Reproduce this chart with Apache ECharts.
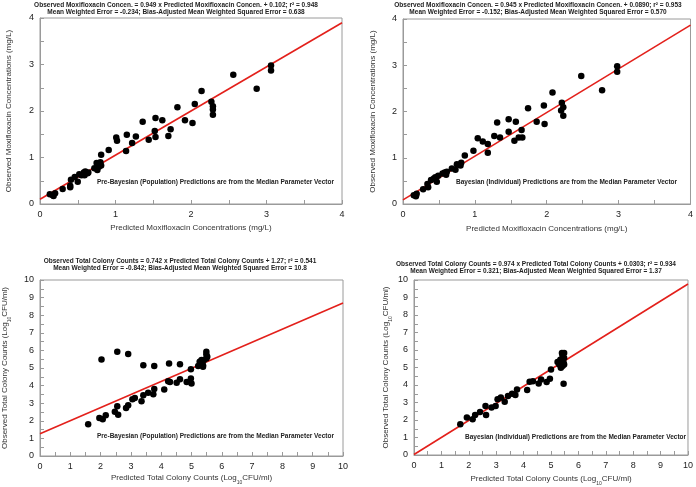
<!DOCTYPE html>
<html><head><meta charset="utf-8">
<script src="https://cdn.jsdelivr.net/npm/echarts@6/dist/echarts.min.js"></script>
<style>html,body{margin:0;padding:0;background:#fff}#c{width:696px;height:487px}</style>
</head><body><div id="c"></div>
<script>
// Panel A: Pre-Bayesian moxifloxacin (predicted, observed)
var moxPopX = [0.13,0.18,0.20,0.17,0.30,0.40,0.40,0.41,0.46,0.50,0.52,0.55,0.58,0.60,0.59,0.63,0.64,0.72,0.75,0.76,0.78,0.80,0.81,0.81,0.91,1.01,1.02,1.14,1.15,1.22,1.27,1.36,1.44,1.52,1.53,1.53,1.62,1.70,1.73,1.82,1.92,2.02,2.05,2.14,2.27,2.29,2.29,2.29,2.56,2.87,3.06,3.06];
var moxPopY = [0.21,0.17,0.23,0.19,0.32,0.39,0.36,0.52,0.58,0.48,0.64,0.62,0.68,0.70,0.62,0.66,0.68,0.77,0.88,0.73,0.80,0.90,1.06,0.83,1.16,1.43,1.36,1.14,1.49,1.31,1.45,1.77,1.38,1.57,1.85,1.44,1.80,1.46,1.61,2.08,1.80,1.74,2.15,2.43,2.20,2.10,2.03,1.92,2.78,2.48,2.98,2.87];
// Panel B: Bayesian moxifloxacin
var moxIndX = [0.15,0.18,0.19,0.28,0.34,0.35,0.39,0.43,0.47,0.49,0.45,0.55,0.58,0.60,0.61,0.68,0.73,0.75,0.80,0.81,0.86,0.98,1.04,1.11,1.18,1.18,1.27,1.31,1.35,1.47,1.47,1.55,1.57,1.61,1.65,1.66,1.74,1.86,1.96,1.97,2.08,2.21,2.20,2.23,2.23,2.48,2.77,2.98,2.98];
var moxIndY = [0.19,0.17,0.22,0.32,0.43,0.36,0.52,0.55,0.48,0.61,0.58,0.66,0.68,0.63,0.70,0.77,0.74,0.86,0.83,0.89,1.05,1.15,1.42,1.35,1.30,1.11,1.47,1.76,1.44,1.83,1.56,1.37,1.78,1.44,1.60,1.44,2.07,1.78,2.13,1.73,2.41,2.19,2.02,2.09,1.91,2.77,2.46,2.98,2.86];
// Panel C: Pre-Bayesian total colony counts
var cfuPopX = [1.59,1.96,2.07,2.17,2.03,2.47,2.55,2.58,2.55,2.84,2.91,2.91,3.05,3.13,3.35,3.41,3.41,3.57,3.74,3.77,3.77,4.10,4.23,4.29,4.26,4.51,4.62,4.62,4.84,4.98,5.00,4.98,5.22,5.27,5.38,5.41,5.49,5.49,5.49,5.52,5.38,5.33];
var cfuPopY = [1.80,2.16,2.09,2.32,5.48,2.51,2.83,2.35,5.92,2.73,2.88,5.79,3.23,3.30,3.11,3.45,5.16,3.59,3.51,3.80,5.12,3.78,4.25,4.21,5.25,4.16,4.36,5.22,4.21,4.40,4.12,4.93,5.12,5.35,5.16,5.45,5.54,5.92,5.77,5.64,5.07,5.45];
// Panel D: Bayesian total colony counts
var cfuIndX = [1.69,1.93,2.14,2.23,2.41,2.61,2.63,2.83,2.98,3.05,3.17,3.31,3.43,3.58,3.70,3.76,4.13,4.22,4.34,4.55,4.64,4.84,4.96,5.00,5.24,5.30,5.36,5.42,5.40,5.42,5.48,5.48,5.46,5.48,5.46,5.34];
var cfuIndY = [1.76,2.14,2.05,2.29,2.46,2.80,2.29,2.71,2.80,3.18,3.28,3.05,3.37,3.50,3.43,3.75,3.71,4.19,4.22,4.09,4.32,4.17,4.36,4.89,5.32,5.17,4.98,5.08,5.83,5.68,5.83,5.55,5.27,5.17,4.07,5.45];
// Regression line end points (from the printed fits)
var fitMoxPop = [[0,0.102],[4,3.898]];
var fitMoxInd = [[0,0.089],[4,3.869]];
var fitCfuPop = [[0,1.27],[10,8.69]];
var fitCfuInd = [[0,0.030],[10,9.77]];

var titles = [
 "Observed Moxifloxacin Concen. = 0.949 x Predicted Moxifloxacin Concen. + 0.102; r\u00b2 = 0.948\nMean Weighted Error = -0.234; Bias-Adjusted Mean Weighted Squared Error = 0.638",
 "Observed Moxifloxacin Concen. = 0.945 x Predicted Moxifloxacin Concen. + 0.0890; r\u00b2 = 0.953\nMean Weighted Error = -0.152; Bias-Adjusted Mean Weighted Squared Error = 0.570",
 "Observed Total Colony Counts = 0.742 x Predicted Total Colony Counts + 1.27; r\u00b2 = 0.541\nMean Weighted Error = -0.842; Bias-Adjusted Mean Weighted Squared Error = 10.8",
 "Observed Total Colony Counts = 0.974 x Predicted Total Colony Counts + 0.0303; r\u00b2 = 0.934\nMean Weighted Error = 0.321; Bias-Adjusted Mean Weighted Squared Error = 1.37"
];
var notes = [
 "Pre-Bayesian (Population) Predictions are from the Median Parameter Vector",
 "Bayesian (Individual) Predictions are from the Median Parameter Vector",
 "Pre-Bayesian (Population) Predictions are from the Median Parameter Vector",
 "Bayesian (Individual) Predictions are from the Median Parameter Vector"
];
var xNames = ["Predicted Moxifloxacin Concentrations (mg/L)","Predicted Moxifloxacin Concentrations (mg/L)",
  "Predicted Total Colony Counts (Log{s|10}CFU/ml)","Predicted Total Colony Counts (Log{s|10}CFU/ml)"];
var yNames = ["Observed Moxifloxacin Concentrations (mg/L)","Observed Moxifloxacin Concentrations (mg/L)",
  "Observed Total Colony Counts (Log{s|10}CFU/ml)","Observed Total Colony Counts (Log{s|10}CFU/ml)"];
var axisMax = [4,4,10,10];

var FONT = "'Liberation Sans', Arial, sans-serif";
var grids = [
 {left:40, top:18, width:302, height:186},
 {left:403, top:19, width:290, height:185},
 {left:40, top:280, width:303, height:176},
 {left:414, top:280, width:277, height:176}
];
var titlePos = [{x:176,y:1},{x:538,y:1},{x:180,y:257},{x:536,y:260}];
var notePos = [{x:97,y:179},{x:456,y:179},{x:97,y:433},{x:465,y:434}];
var xGap = [20,21,18,20], yGap = [27,26,31,24];

function zip(a,b){return a.map(function(v,i){return [v,b[i]];});}
var scat = [zip(moxPopX,moxPopY),zip(moxIndX,moxIndY),zip(cfuPopX,cfuPopY),zip(cfuIndX,cfuIndY)];
var fits = [fitMoxPop,fitMoxInd,fitCfuPop,fitCfuInd];

var option = {backgroundColor:'#fff', animation:false, title:[], grid:[], xAxis:[], yAxis:[], series:[]};
var rich = {s:{fontSize:5, verticalAlign:'bottom', padding:[0,0,-3,0], fontFamily:FONT, color:'#333'}};
for (var i=0;i<4;i++){
  var g = grids[i];
  option.grid.push({left:g.left, top:g.top, width:g.width, height:g.height, show:true, borderColor:'#9a9a9a', borderWidth:1, containLabel:false});
  option.title.push({text:titles[i], left:titlePos[i].x, top:titlePos[i].y, textAlign:'center', padding:0,
    textStyle:{fontSize:6.5, fontWeight:'bold', color:'#222', fontFamily:FONT, lineHeight:7.8}});
  option.title.push({text:notes[i], left:notePos[i].x, top:notePos[i].y, padding:0,
    textStyle:{fontSize:6.5, fontWeight:'bold', color:'#222', fontFamily:FONT}});
  var axCommon = {
    min:0, max:axisMax[i], interval:1,
    axisLine:{show:true, lineStyle:{color:'#9a9a9a', width:1}},
    axisTick:{show:true, inside:true, length:4, lineStyle:{color:'#9a9a9a'}},
    minorTick:{show:true, splitNumber:2, length:4, lineStyle:{color:'#9a9a9a'}},
    splitLine:{show:false},
    axisLabel:{fontSize:9, color:'#222', fontFamily:FONT, margin:6}
  };
  option.xAxis.push(Object.assign({}, axCommon, {type:'value', gridIndex:i, name:xNames[i], nameLocation:'middle', nameGap:xGap[i],
    nameTextStyle:{fontSize:8, color:'#333', fontFamily:FONT, rich:rich}}));
  option.yAxis.push(Object.assign({}, axCommon, {type:'value', gridIndex:i, name:yNames[i], nameLocation:'middle', nameGap:yGap[i],
    nameTextStyle:{fontSize:8, color:'#333', fontFamily:FONT, rich:rich}}));
  option.series.push({type:'line', xAxisIndex:i, yAxisIndex:i, data:fits[i], symbol:'none', lineStyle:{color:'#e3201b', width:1.6}, z:3});
  option.series.push({type:'scatter', xAxisIndex:i, yAxisIndex:i, data:scat[i], symbolSize:6.5, itemStyle:{color:'#000', opacity:1}, z:4});
}
var chart = echarts.init(document.getElementById('c'), null, {renderer:'canvas'});
chart.setOption(option);
</script></body></html>
